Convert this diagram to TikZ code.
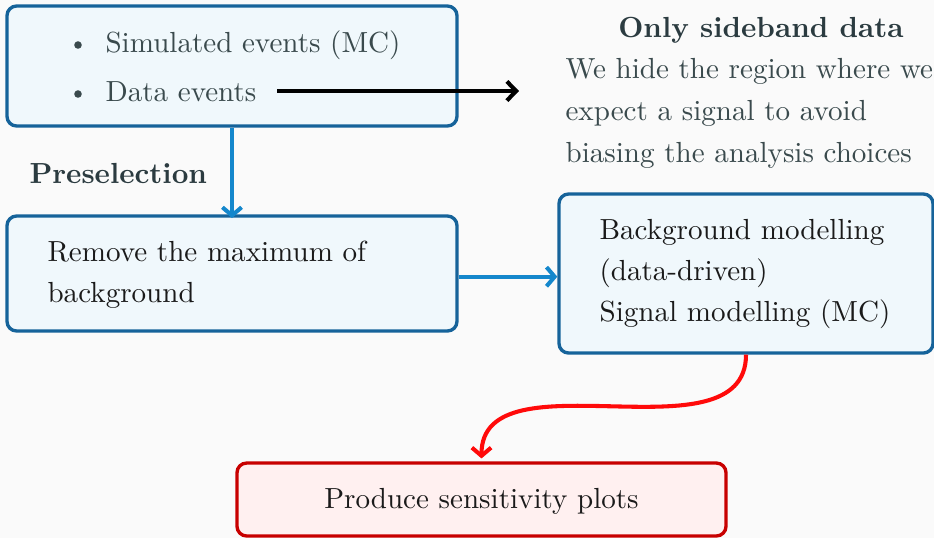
\documentclass[tikz,border=0pt]{standalone}
\usetikzlibrary{arrows.meta}
\definecolor{bgc}{HTML}{FAFAFA}
\definecolor{boxblue}{HTML}{16639A}
\definecolor{boxfill}{HTML}{F0F8FC}
\definecolor{arrblue}{HTML}{1487CC}
\definecolor{txtgray}{HTML}{3A4A4D}
\definecolor{slate}{HTML}{2B3B40}
\definecolor{redline}{HTML}{FF0A0A}
\definecolor{redborder}{HTML}{C80000}
\definecolor{redfill}{HTML}{FFF0F0}
\definecolor{darktxt}{HTML}{1A1A1A}
\begin{document}
\begin{tikzpicture}[x=0.344pt,y=-0.344pt,
  font=\fontsize{10}{12}\selectfont,
  bluebox/.style={draw=boxblue, fill=boxfill, line width=1.15pt, rounded corners=3.3pt, inner sep=0pt},
  redbox/.style={draw=redborder, fill=redfill, line width=1.15pt, rounded corners=3.3pt, inner sep=0pt},
  txt/.style={anchor=base west, inner sep=0pt},
  bluearrow/.style={draw=arrblue, line width=1.4pt, -{Straight Barb[length=2.8pt,width=6.6pt]}},
  blackarrow/.style={draw=black, line width=1.4pt, -{Straight Barb[length=3.2pt,width=6.6pt]}},
  redarrow/.style={draw=redline, line width=1.4pt, -{Straight Barb[length=2.8pt,width=6.6pt]}},
]
\fill[bgc] (0,0) rectangle (934,538);
\useasboundingbox (0,0) rectangle (934,538);

% boxes
\node[bluebox, minimum width=154.8pt, minimum height=41.28pt] (src) at (232,66) {};
\node[bluebox, minimum width=154.8pt, minimum height=39.56pt] (sel) at (232,273.5) {};
\node[bluebox, minimum width=128.66pt, minimum height=54.7pt] (model) at (746,273.5) {};
\node[redbox, minimum width=168.2pt, minimum height=25.1pt] (plots) at (481.5,499.5) {};

% box 1 text
\node[circle, fill=txtgray, inner sep=0pt, minimum size=2.6pt] (b1) at (78,45) {};
\node[circle, fill=txtgray, inner sep=0pt, minimum size=2.6pt] (b2) at (78,94) {};
\node[txt, text=txtgray] (mc) at (105,52) {Simulated events (MC)};
\node[txt, text=txtgray] (data) at (105,101) {Data events};

% box 2 text
\node[txt, text=darktxt] (sel1) at (47,261) {Remove the maximum of};
\node[txt, text=darktxt] (sel2) at (47,302) {background};

% box 3 text
\node[txt, text=darktxt] (m1) at (599,239) {Background modelling};
\node[txt, text=darktxt] (m2) at (599,280) {(data-driven)};
\node[txt, text=darktxt] (m3) at (599,321) {Signal modelling (MC)};

% box 4 text
\node[anchor=base, inner sep=0pt, text=darktxt] (p1) at (481.5,508) {Produce sensitivity plots};

% preselection label
\node[txt, text=slate] (presel) at (29,183) {\bfseries Preselection};

% sideband text
\node[anchor=base, inner sep=0pt, text=slate] (sbt) at (761,37) {\bfseries Only sideband data};
\node[txt, text=txtgray] (s1) at (565,78) {We hide the region where we};
\node[txt, text=txtgray] (s2) at (565,120) {expect a signal to avoid};
\node[txt, text=txtgray] (s3) at (565,162) {biasing the analysis choices};

% connectors
\coordinate (hidestart) at (277,91);
\coordinate (hideend) at (519,91);
\draw[blackarrow] (hidestart) -- (hideend);
\draw[bluearrow] (src.south) -- ([yshift=-1.3pt]sel.north);
\draw[bluearrow] ([yshift=-1.1pt]sel.east) -- ([yshift=-1.1pt]model.west);
\draw[redarrow] (model.south) .. controls +(0,108) and +(0,-107) .. ([yshift=1pt]plots.north);
\end{tikzpicture}
\end{document}
